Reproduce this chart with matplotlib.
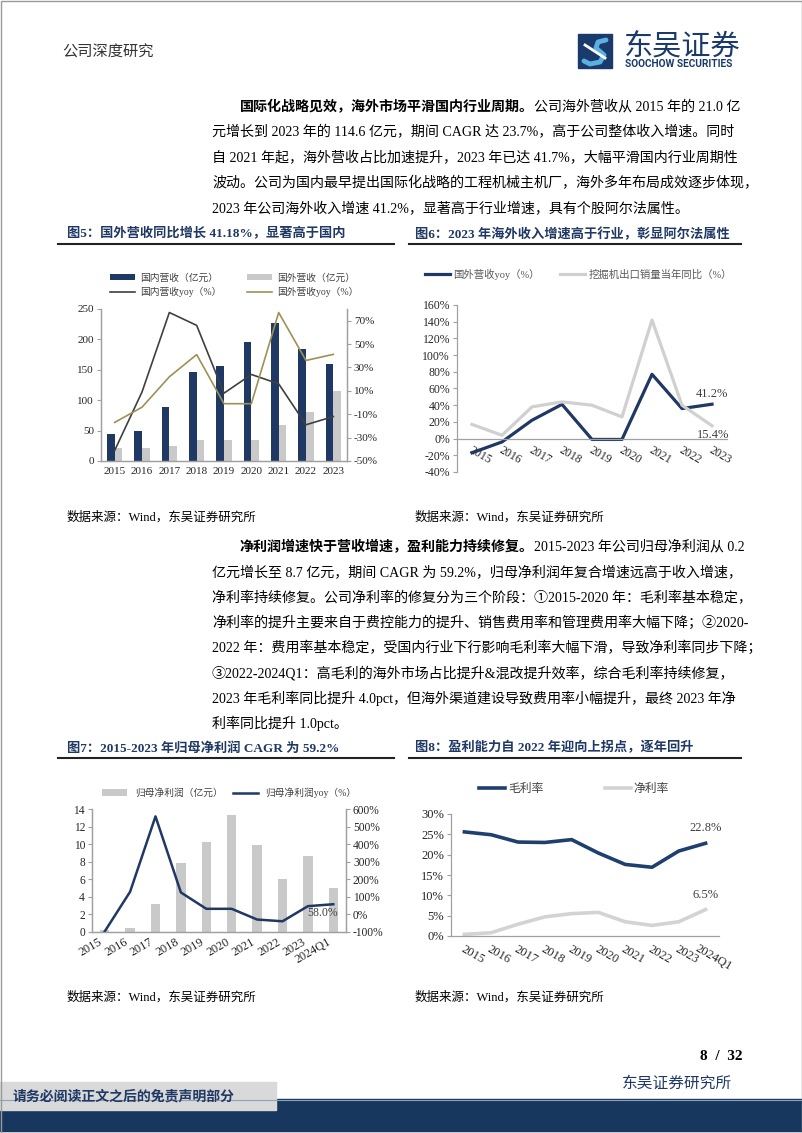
import matplotlib
matplotlib.use('Agg')
import matplotlib.pyplot as plt
from matplotlib.patches import Rectangle
from matplotlib.ticker import FuncFormatter
from matplotlib.transforms import ScaledTranslation
import numpy as np

W, H = 802, 1133
SERIF = ['Liberation Serif', 'Noto Sans CJK SC']
CJK = ['Noto Sans CJK SC', 'DejaVu Sans']
plt.rcParams['font.family'] = SERIF

NAVY = '#1f3864'
GRAY_BAR = '#c9c9c9'
AXIS = '#a0a0a0'
TXT = '#262626'

# ---- data ----
years = ['2015', '2016', '2017', '2018', '2019', '2020', '2021', '2022', '2023']
dom_rev = [45, 49, 88, 146, 157, 196, 227, 184, 160]          # 国内营收 亿元
ovs_rev = [21.0, 21, 25, 34, 34, 34, 60, 81, 114.6]            # 国外营收 亿元
dom_yoy = [-41, 9, 77, 66, 8, 24, 16, -19, -12]                # 国内营收yoy %
ovs_yoy = [-17, -4, 22, 41, -1, -1, 77, 36, 41.2]              # 国外营收yoy %
excav_yoy = [17, 4, 38, 44, 40, 26, 142, 40, 15.4]             # 挖掘机出口销量同比 %

years2 = years + ['2024Q1']
net_profit = [0.2, 0.5, 3.2, 7.9, 10.2, 13.3, 9.9, 6.0, 8.7, 5.0]     # 归母净利润 亿元
profit_yoy = [-97, 129, 558, 125, 32, 32, -29, -39, 47, 58.0]         # 归母净利润yoy %
gross_margin = [25.6, 24.9, 23.1, 23.0, 23.7, 20.4, 17.6, 16.9, 20.9, 22.8]
net_margin = [0.4, 0.8, 2.9, 4.7, 5.5, 5.8, 3.5, 2.6, 3.5, 6.5]

fig = plt.figure(figsize=(W / 100, H / 100), dpi=100)

# page layer in pixel coordinates
page = fig.add_axes([0, 0, 1, 1], zorder=0)
page.set_xlim(0, W)
page.set_ylim(H, 0)
page.axis('off')


def px_axes(left, top, right, bottom):
    return fig.add_axes([left / W, 1 - bottom / H, (right - left) / W, (bottom - top) / H])


def pct(v, pos=None):
    return '{:.0f}%'.format(v)


def style_axis(ax, size):
    for s in ax.spines.values():
        s.set_color(AXIS)
        s.set_linewidth(0.9)
    ax.tick_params(axis='both', colors=AXIS, labelcolor=TXT, labelsize=size,
                   length=3, width=0.8, direction='out', pad=2)
    ax.tick_params(axis='x', length=0)


def shift_labels(ax, dx):
    off = ScaledTranslation(dx / 100, 0, fig.dpi_scale_trans)
    for lab in ax.get_xticklabels():
        lab.set_transform(lab.get_transform() + off)


# ---- header ----
page.text(62, 52, '公司深度研究', fontsize=11, color='#333333', va='center', family=CJK)
page.add_patch(Rectangle((578, 34), 34, 34, color='#1a3a6c'))
page.plot([584, 590, 600, 604, 596, 598, 606], [61, 64, 62, 55, 48, 42, 40],
          color='#5ab0e0', lw=3.5, solid_capstyle='round')
page.plot([585, 605], [45, 58], color='white', lw=2)
page.text(624, 46, '东吴证券', fontsize=21, color='#1a3a6c', va='center', family=CJK)
page.text(625, 64, 'SOOCHOW SECURITIES', fontsize=7.3, color='#1a3a6c', va='center',
          weight='bold', family=['Roboto', 'DejaVu Sans'])

BODY = 10.1


def body_line(y, s, bold=None, x=212):
    if bold:
        t = page.text(240, y, bold, fontsize=BODY, weight='bold', va='center', color='black')
        page.annotate(s, xy=(1, 0.5), xycoords=t, va='center', ha='left', fontsize=BODY,
                      color='black')
    else:
        page.text(x, y, s, fontsize=BODY, va='center', color='black')


para1 = [
    '元增长到 2023 年的 114.6 亿元，期间 CAGR 达 23.7%，高于公司整体收入增速。同时',
    '自 2021 年起，海外营收占比加速提升，2023 年已达 41.7%，大幅平滑国内行业周期性',
    '波动。公司为国内最早提出国际化战略的工程机械主机厂，海外多年布局成效逐步体现，',
    '2023 年公司海外收入增速 41.2%，显著高于行业增速，具有个股阿尔法属性。',
]
body_line(107, '公司海外营收从 2015 年的 21.0 亿', bold='国际化战略见效，海外市场平滑国内行业周期。')
for i, s in enumerate(para1):
    body_line(132.5 + 25.5 * i, s)

para2 = [
    '亿元增长至 8.7 亿元，期间 CAGR 为 59.2%，归母净利润年复合增速远高于收入增速，',
    '净利率持续修复。公司净利率的修复分为三个阶段：①2015-2020 年：毛利率基本稳定，',
    '净利率的提升主要来自于费控能力的提升、销售费用率和管理费用率大幅下降；②2020-',
    '2022 年：费用率基本稳定，受国内行业下行影响毛利率大幅下滑，导致净利率同步下降；',
    '③2022-2024Q1：高毛利的海外市场占比提升&混改提升效率，综合毛利率持续修复，',
    '2023 年毛利率同比提升 4.0pct，但海外渠道建设导致费用率小幅提升，最终 2023 年净',
    '利率同比提升 1.0pct。',
]
body_line(547, '2015-2023 年公司归母净利润从 0.2', bold='净利润增速快于营收增速，盈利能力持续修复。')
for i, s in enumerate(para2):
    body_line(573 + 25 * i, s)


def fig_title(x, y, s, rule_x0, rule_x1):
    page.text(x, y, s, fontsize=9.5, weight='bold', color=NAVY, va='center')
    page.plot([rule_x0, rule_x1], [y + 10, y + 10], color='#222222', lw=1.5)


fig_title(67, 234, '图5：国外营收同比增长 41.18%，显著高于国内', 58, 394)
fig_title(415, 234, '图6：2023 年海外收入增速高于行业，彰显阿尔法属性', 409, 741)
fig_title(67, 748, '图7：2015-2023 年归母净利润 CAGR 为 59.2%', 58, 394)
fig_title(415, 748, '图8：盈利能力自 2022 年迎向上拐点，逐年回升', 409, 741)

for (sx, sy) in [(67, 517), (415, 517), (67, 997), (415, 997)]:
    page.text(sx, sy, '数据来源：Wind，东吴证券研究所', fontsize=9, color='black', va='center')

# ---- 图5 ----
x = np.arange(len(years))
ax1 = px_axes(101, 309, 347, 461)
bw = 0.28
b1 = ax1.bar(x - bw / 2, dom_rev, bw, color=NAVY, zorder=2)
b2 = ax1.bar(x + bw / 2, ovs_rev, bw, color=GRAY_BAR, zorder=2)
ax1.set_xlim(-0.5, len(years) - 0.5)
ax1.set_ylim(0, 250)
ax1.set_yticks(range(0, 251, 50))
ax1.set_xticks(x)
ax1.set_xticklabels(years)
ax1r = ax1.twinx()
l1, = ax1r.plot(x, dom_yoy, color='#404040', lw=1.2)
l2, = ax1r.plot(x, ovs_yoy, color='#9d9156', lw=1.2)
ax1r.set_ylim(-50, 80)
ax1r.set_yticks(range(-50, 71, 20))
ax1r.yaxis.set_major_formatter(FuncFormatter(pct))
for a in (ax1, ax1r):
    style_axis(a, 8)
    a.spines['top'].set_visible(False)
ax1.tick_params(axis='x', pad=4)
ax1.legend(handles=[b1, l1, b2, l2],
           labels=['国内营收（亿元）', '国内营收yoy（%）', '国外营收（亿元）', '国外营收yoy（%）'],
           ncol=2, loc='center left', bbox_to_anchor=(110 / W, 1 - 285 / H),
           bbox_transform=fig.transFigure, frameon=False, prop={'family': SERIF, 'size': 7},
           labelcolor='#404040', handlelength=2.6, handletextpad=0.5, columnspacing=2.6,
           labelspacing=0.45, borderpad=0, borderaxespad=0)

# ---- 图6 ----
ax2 = px_axes(457, 305, 727, 472)
ax2.spines['bottom'].set_position(('data', 0))
ax2.plot(x, ovs_yoy, color=NAVY, lw=2.3, label='国外营收yoy（%）')
ax2.plot(x, excav_yoy, color='#d0d0d0', lw=2.3, label='挖掘机出口销量当年同比（%）')
ax2.set_xlim(-0.5, len(years) - 0.5)
ax2.set_ylim(-40, 160)
ax2.set_yticks(range(-40, 161, 20))
ax2.yaxis.set_major_formatter(FuncFormatter(pct))
ax2.set_xticks(x)
ax2.set_xticklabels(years, rotation=-30)
style_axis(ax2, 8.5)
ax2.spines['top'].set_visible(False)
ax2.spines['right'].set_visible(False)
ax2.tick_params(axis='x', pad=4)
shift_labels(ax2, 8)
ax2.annotate('{:.1f}%'.format(ovs_yoy[-1]), xy=(x[-1], ovs_yoy[-1]), xytext=(0, 4),
             textcoords='offset pixels', ha='center', va='bottom', fontsize=9, color='#404040')
ax2.annotate('{:.1f}%'.format(excav_yoy[-1]), xy=(x[-1], excav_yoy[-1]), xytext=(1, -3),
             textcoords='offset pixels', ha='center', va='top', fontsize=9, color='#404040')
ax2.legend(ncol=2, loc='center left', bbox_to_anchor=(425 / W, 1 - 274 / H),
           bbox_transform=fig.transFigure, frameon=False, prop={'family': SERIF, 'size': 7.5},
           labelcolor='#595959', handlelength=2.4, handletextpad=0.3, columnspacing=2.0,
           borderpad=0, borderaxespad=0)

# ---- 图7 ----
x2 = np.arange(len(years2))
ax3 = px_axes(92, 809, 346, 932)
b3 = ax3.bar(x2, net_profit, 0.37, color=GRAY_BAR, zorder=2)
ax3.set_xlim(-0.5, len(years2) - 0.5)
ax3.set_ylim(0, 14)
ax3.set_yticks(range(0, 15, 2))
ax3.set_xticks(x2)
ax3.set_xticklabels(years2, rotation=30, ha='right')
ax3r = ax3.twinx()
l3, = ax3r.plot(x2, profit_yoy, color=NAVY, lw=1.8)
ax3r.set_ylim(-100, 600)
ax3r.set_yticks(range(-100, 601, 100))
ax3r.yaxis.set_major_formatter(FuncFormatter(pct))
for a in (ax3, ax3r):
    style_axis(a, 8.3)
    a.spines['top'].set_visible(False)
ax3.tick_params(axis='x', pad=3, labelsize=8.8)
ax3r.annotate('{:.1f}%'.format(profit_yoy[-1]), xy=(x2[-1], profit_yoy[-1]), xytext=(5, -9),
              textcoords='offset pixels', ha='right', va='center', fontsize=8.5, color='#404040')
ax3.legend(handles=[b3, l3], labels=['归母净利润（亿元）', '归母净利润yoy（%）'],
           ncol=2, loc='center left', bbox_to_anchor=(102 / W, 1 - 793 / H),
           bbox_transform=fig.transFigure, frameon=False, prop={'family': SERIF, 'size': 7},
           labelcolor='#404040', handlelength=2.6, handletextpad=0.8, columnspacing=1.0,
           borderpad=0, borderaxespad=0)

# ---- 图8 ----
ax4 = px_axes(451, 814, 719, 936)
ax4.plot(x2, gross_margin, color='#1f3f6e', lw=2.6, label='毛利率')
ax4.plot(x2, net_margin, color='#d3d3d3', lw=2.6, label='净利率')
ax4.set_xlim(-0.5, len(years2) - 0.5)
ax4.set_ylim(0, 30)
ax4.set_yticks(range(0, 31, 5))
ax4.yaxis.set_major_formatter(FuncFormatter(pct))
ax4.set_xticks(x2)
ax4.set_xticklabels(years2, rotation=-30)
style_axis(ax4, 9)
ax4.spines['top'].set_visible(False)
ax4.spines['right'].set_visible(False)
ax4.tick_params(axis='x', pad=5)
shift_labels(ax4, 8)
for series in (gross_margin, net_margin):
    ax4.annotate('{:.1f}%'.format(series[-1]), xy=(x2[-1], series[-1]), xytext=(0, 15),
                 textcoords='offset pixels', ha='center', va='center', fontsize=9, color='#404040')
ax4.legend(ncol=2, loc='center left', bbox_to_anchor=(479 / W, 1 - 789 / H),
           bbox_transform=fig.transFigure, frameon=False, prop={'family': SERIF, 'size': 8.5},
           labelcolor='#404040', handlelength=2.2, handletextpad=0.25, columnspacing=5.2,
           borderpad=0, borderaxespad=0)

# ---- footer ----
page.text(743, 1057, '8  /  32', fontsize=11, weight='bold', ha='right', va='center', color='black')
page.text(622, 1083, '东吴证券研究所', fontsize=11.3, color=NAVY, va='center', family=CJK)
page.add_patch(Rectangle((0, 1099), W, 32, color='#17375e'))
page.plot([0, W], [1099.5, 1099.5], color='#8ea2bd', lw=0.8)
page.add_patch(Rectangle((0, 1082), 276, 28, color='#d9d9d9'))
page.text(13, 1096, '请务必阅读正文之后的免责声明部分', fontsize=10, weight='bold', color=NAVY,
          va='center', family=CJK)
page.add_patch(Rectangle((0.5, 0.5), W - 1, H - 1, fill=False, edgecolor='#9a9a9a', lw=1))

fig.savefig('out.png', dpi=100)
